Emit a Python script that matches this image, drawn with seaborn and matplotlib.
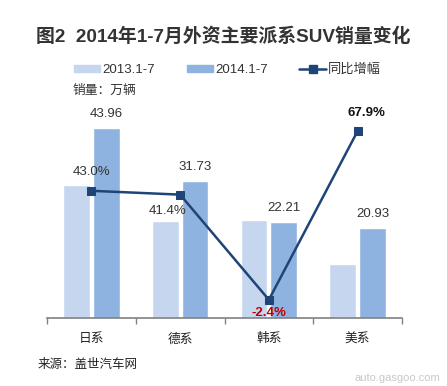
import numpy as np
import pandas as pd
import seaborn as sns
import matplotlib.pyplot as plt
from matplotlib.patches import Patch
from matplotlib.lines import Line2D

# data
categories = ["日系", "德系", "韩系", "美系"]
sales_2013 = [30.74, 22.44, 22.76, 12.47]
sales_2014 = [43.96, 31.73, 22.21, 20.93]
growth = [43.0, 41.4, -2.4, 67.9]
series_names = ["2013.1-7", "2014.1-7"]

light = "#C5D6EE"
dark = "#8EB3E0"
navy = "#1F4478"

sns.set_theme(style="white")
plt.rcParams['font.family'] = ['Liberation Sans', 'Noto Sans CJK SC', 'DejaVu Sans']

df = pd.DataFrame({
    "cat": categories * 2,
    "series": [series_names[0]] * 4 + [series_names[1]] * 4,
    "value": sales_2013 + sales_2014,
})

W, H = 447, 386
fig = plt.figure(figsize=(W / 100, H / 100), dpi=100)
ax = fig.add_axes([47 / W, 1 - 318 / H, 355 / W, 216 / H])

sns.barplot(data=df, x="cat", y="value", hue="series",
            palette=[light, dark], width=0.67, gap=0.1,
            saturation=1, legend=False, ax=ax)
ax.set_xlim(-0.5, 3.5)
ax.set_ylim(0, 50)
ax.set_xlabel("")
ax.set_ylabel("")
ax.set_yticks([])
for s in ["top", "right", "left"]:
    ax.spines[s].set_visible(False)
ax.spines["bottom"].set_color("#808080")
ax.spines["bottom"].set_linewidth(1.2)
ax.set_xticks(np.arange(4))
ax.set_xticklabels(categories, fontsize=9.2, color="#222222")
ax.tick_params(axis="x", which="major", length=0, pad=11)
ax.set_xticks(np.arange(5) - 0.5, minor=True)
ax.tick_params(axis="x", which="minor", length=4, width=1, color="#808080",
               direction="out", bottom=True)

# labels over 2014 bars
for i, v in enumerate(sales_2014):
    ax.annotate(f"{v:.2f}", (i + 0.167, v), xytext=(0, 5.5), textcoords="offset points",
                ha="center", va="bottom", fontsize=9.5, color="#333333")

ax2 = ax.twinx()
sns.lineplot(x=np.arange(4), y=growth, ax=ax2, color=navy, linewidth=1.8,
             marker="s", markersize=6, markeredgecolor=navy)
ax2.set_ylim(-10, 80)
ax2.set_yticks([])
for s in ["top", "right", "left", "bottom"]:
    ax2.spines[s].set_visible(False)

offsets = [(0, 9.5), (-9, -7.5), (0, -5), (6, 9)]
vas = ["bottom", "top", "top", "bottom"]
colors = ["#333333", "#333333", "#C00000", "#111111"]
weights = ["normal", "normal", "bold", "bold"]
for i, g in enumerate(growth):
    ax2.annotate(f"{g:.1f}%", (i, g), xytext=offsets[i], textcoords="offset points",
                 ha="center", va=vas[i], fontsize=9.5, color=colors[i],
                 fontweight=weights[i])

fig.text(0.5, 1 - 37 / H, "图2  2014年1-7月外资主要派系SUV销量变化",
         ha="center", va="center", fontsize=13.6, fontweight="bold", color="#333333")

handles = [Patch(color=light), Patch(color=dark),
           Line2D([], [], color=navy, linewidth=1.8, marker="s", markersize=6)]
fig.legend(handles, [series_names[0], series_names[1], "同比增幅"],
           loc="center left", bbox_to_anchor=(74 / W, 1 - 70 / H), ncol=3,
           frameon=False, fontsize=9.5, handlelength=2.0, handleheight=0.4,
           handletextpad=0.15, columnspacing=2.4, borderpad=0, borderaxespad=0,
           labelcolor="#333333")

fig.text(73 / W, 1 - 91 / H, "销量：万辆", ha="left", va="center",
         fontsize=9.2, color="#333333")
fig.text(38 / W, 1 - 365 / H, "来源：盖世汽车网", ha="left", va="center",
         fontsize=9, color="#222222")
fig.text(440 / W, 1 - 378 / H, "auto.gasgoo.com", ha="right", va="center",
         fontsize=8, color="#C8C8C8")

fig.savefig("out.png", dpi=100)
